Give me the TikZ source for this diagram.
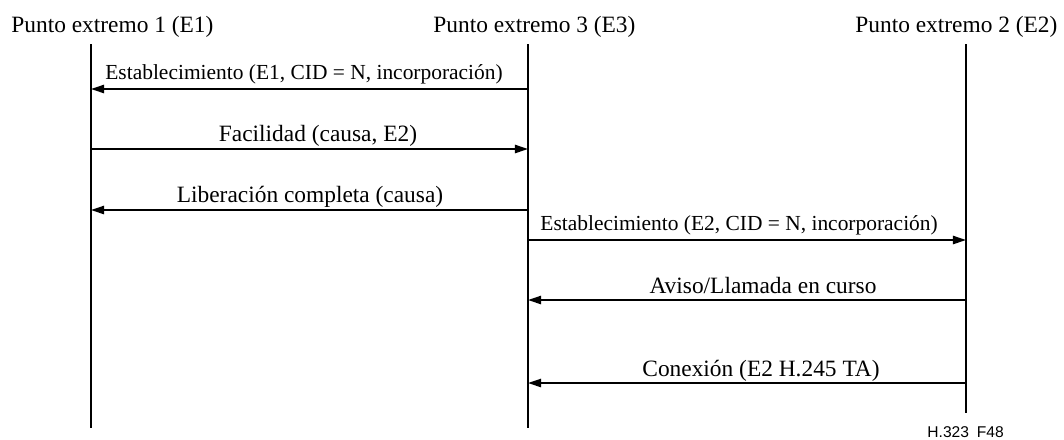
\documentclass[tikz,border=0pt]{standalone}
\usepackage{fontspec}
\setmainfont{Liberation Serif}
\setsansfont{Liberation Sans}
\usetikzlibrary{positioning,arrows.meta}
\tikzset{
  lifeline/.style={line width=1pt},
  msgarrow/.style={-{Triangle[length=6.7pt, width=4.2pt]}, line width=1pt},
  endpoint/.style={font=\fontsize{12}{14}\selectfont, inner sep=0pt, anchor=base west},
  msglabel/.style={font=\fontsize{12}{14}\selectfont, inner sep=0pt, anchor=base},
  msgsmall/.style={font=\fontsize{11}{13}\selectfont, inner sep=0pt, anchor=base west},
  figref/.style={font=\sffamily\fontsize{8}{10}\selectfont, inner sep=0pt, anchor=base west}
}
\begin{document}
\begin{tikzpicture}[x=0.513pt, y=-0.513pt]
  \useasboundingbox (0,0) rectangle (1064,439);
  % end points and their lifelines
  \node[endpoint] (p1) at (11,32) {Punto extremo 1 (E1)};
  \node[endpoint] (p3) at (433,32) {Punto extremo 3 (E3)};
  \node[endpoint] (p2) at (855,32) {Punto extremo 2 (E2)};
  \coordinate (e1top) at (91,44);
  \coordinate (e1bot) at (91,428);
  \coordinate (e3top) at (528,44);
  \coordinate (e3bot) at (528,428);
  \coordinate (e2top) at (966,44);
  \coordinate (e2bot) at (966,413);
  \draw[lifeline] (e1top) -- (e1bot);
  \draw[lifeline] (e3top) -- (e3bot);
  \draw[lifeline] (e2top) -- (e2bot);
  % message rows
  \coordinate (r1) at (0,89);
  \coordinate (r2) at (0,149);
  \coordinate (r3) at (0,210);
  \coordinate (r4) at (0,240);
  \coordinate (r5) at (0,300);
  \coordinate (r6) at (0,383);
  \draw[msgarrow] (e3top |- r1) -- (e1top |- r1);
  \draw[msgarrow] (e1top |- r2) -- (e3top |- r2);
  \draw[msgarrow] (e3top |- r3) -- (e1top |- r3);
  \draw[msgarrow] (e3top |- r4) -- (e2top |- r4);
  \draw[msgarrow] (e2top |- r5) -- (e3top |- r5);
  \draw[msgarrow] (e2top |- r6) -- (e3top |- r6);
  % labels
  \node[msgsmall] (l1) at (105,79) {Establecimiento (E1, CID = N, incorporación)};
  \node[msglabel] (l2) at (318,141) {Facilidad (causa, E2)};
  \node[msglabel] (l3) at (310,202) {Liberación completa (causa)};
  \node[msgsmall] (l4) at (540,230) {Establecimiento (E2, CID = N, incorporación)};
  \node[msglabel] (l5) at (763,293) {Aviso/Llamada en curso};
  \node[msglabel] (l6) at (761,376) {Conexión (E2 H.245 TA)};
  \node[figref] (fig) at (927,437) {H.323\enspace F48};
\end{tikzpicture}
\end{document}
